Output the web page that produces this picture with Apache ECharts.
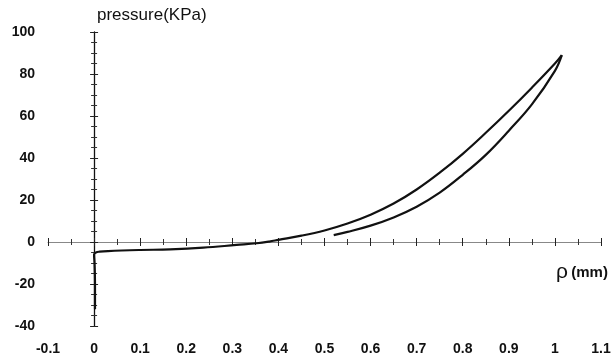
<!DOCTYPE html>
<html>
<head>
<meta charset="utf-8">
<script src="https://cdn.jsdelivr.net/npm/echarts@6/dist/echarts.min.js"></script>
<style>html,body{margin:0;padding:0;background:#fff;}#c{width:616px;height:358px;}</style>
</head>
<body>
<div id="c"></div>
<script>
// Axis ranges / tick labels
const xRange = [-0.1, 1.1];
const yRange = [-40, 100];
const xLabels = ['-0.1','0','0.1','0.2','0.3','0.4','0.5','0.6','0.7','0.8','0.9','1','1.1'];
const yLabels = ['-40','-20','0','20','40','60','80','100'];

// Loading branch (rho mm, pressure KPa)
const loadX = [0.002, 0.002, 0.001, 0.000, 0.004, 0.012, 0.030, 0.100, 0.165, 0.237, 0.309, 0.353, 0.380, 0.400, 0.450, 0.500, 0.550, 0.600, 0.650, 0.700, 0.750, 0.800, 0.850, 0.900, 0.950, 1.000, 1.015];
const loadY = [-32, -20, -10, -6, -5, -4.6, -4.3, -3.8, -3.5, -2.7, -1.4, -0.6, 0.2, 1.0, 3.0, 5.5, 8.8, 13.0, 18.3, 25.0, 33.0, 42.0, 52.0, 62.5, 73.5, 85.0, 89];
// Unloading branch
const unloadX = [1.015, 1.000, 0.950, 0.900, 0.850, 0.800, 0.750, 0.700, 0.650, 0.600, 0.550, 0.520];
const unloadY = [89, 81.5, 65.5, 53, 41.5, 32, 23.5, 16.8, 11.7, 7.8, 4.8, 3.3];

const zip = (a, b) => a.map((v, i) => [v, b[i]]);
const labelFont = { fontFamily: 'Liberation Sans, Arial, sans-serif', fontWeight: 'bold', fontSize: 14, color: '#111' };

const chart = echarts.init(document.getElementById('c'), null, { renderer: 'canvas' });

function tickX(inside) {
  return {
    type: 'value', min: xRange[0], max: xRange[1], interval: 0.1,
    position: 'bottom',
    axisLine: { show: !inside, onZero: true, lineStyle: { color: '#888', width: 1 } },
    axisTick: { show: true, inside: inside, length: 4, lineStyle: { color: '#222', width: 1 } },
    minorTick: { show: true, splitNumber: 2, length: 3, lineStyle: { color: '#333', width: 1 } },
    axisLabel: { show: false }, splitLine: { show: false }
  };
}
function tickY(inside) {
  return {
    type: 'value', min: yRange[0], max: yRange[1], interval: 20,
    position: 'left',
    axisLine: { show: !inside, onZero: true, lineStyle: { color: '#111', width: 1.3 } },
    axisTick: { show: true, inside: inside, length: 4, lineStyle: { color: '#222', width: 1 } },
    minorTick: { show: true, splitNumber: 4, length: 3, lineStyle: { color: '#333', width: 1 } },
    axisLabel: { show: false }, splitLine: { show: false }
  };
}

chart.setOption({
  animation: false,
  backgroundColor: '#fff',
  grid: { left: 48, right: 15, top: 32, bottom: 32, containLabel: false },
  xAxis: [
    {
      type: 'value', min: xRange[0], max: xRange[1], interval: 0.1, position: 'bottom',
      axisLine: { show: false, onZero: false }, axisTick: { show: false }, splitLine: { show: false },
      axisLabel: Object.assign({ margin: 16, formatter: (v) => xLabels[Math.round((v - xRange[0]) / 0.1)] }, labelFont)
    },
    tickX(false),
    tickX(true)
  ],
  yAxis: [
    {
      type: 'value', min: yRange[0], max: yRange[1], interval: 20, position: 'left',
      axisLine: { show: false, onZero: false }, axisTick: { show: false }, splitLine: { show: false },
      axisLabel: Object.assign({ margin: 13, formatter: (v) => yLabels[Math.round((v - yRange[0]) / 20)] }, labelFont)
    },
    tickY(false),
    tickY(true)
  ],
  graphic: [
    { type: 'text', left: 97, top: 7, style: { text: 'pressure(KPa)', font: '17px Liberation Sans, Arial, sans-serif', fill: '#111' } },
    { type: 'text', left: 556, top: 262, style: {
        text: '{r|ρ} {m|(mm)}',
        rich: {
          r: { font: '21px Liberation Sans, Arial, sans-serif', fill: '#111' },
          m: { font: 'bold 15px Liberation Sans, Arial, sans-serif', fill: '#111' }
        }
    } }
  ],
  series: [
    { type: 'line', name: 'loading', data: zip(loadX, loadY), smooth: 0.4, showSymbol: false,
      lineStyle: { color: '#111', width: 2.2 }, xAxisIndex: 0, yAxisIndex: 0, z: 5 },
    { type: 'line', name: 'unloading', data: zip(unloadX, unloadY), smooth: 0.4, showSymbol: false,
      lineStyle: { color: '#111', width: 2.2 }, xAxisIndex: 0, yAxisIndex: 0, z: 5 }
  ]
});
</script>
</body>
</html>
